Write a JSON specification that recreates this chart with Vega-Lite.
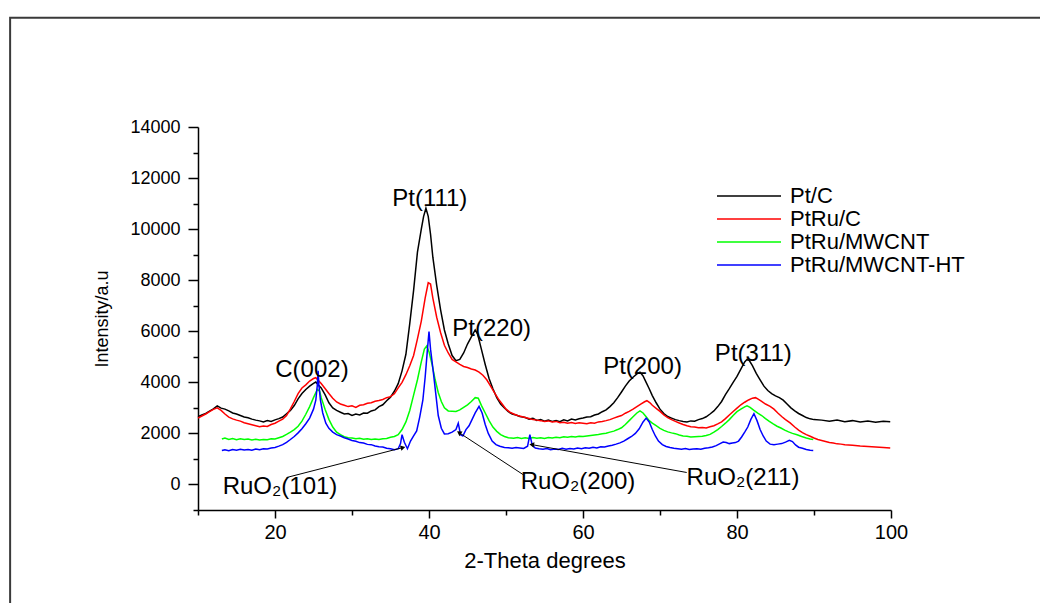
{
"$schema":"https://vega.github.io/schema/vega-lite/v6.json",
"width":693,"height":383,
"autosize":{"type":"none"},
"padding":{"left":198,"top":127,"right":149,"bottom":93},
"background":"white",
"config":{"view":{"stroke":null},"font":"Liberation Sans","text":{"font":"Liberation Sans"}},
"datasets":{
"ptc":[{"x":10,"y":2650},{"x":10.5,"y":2720},{"x":11,"y":2780},{"x":11.5,"y":2870},{"x":12,"y":2960},{"x":12.5,"y":3080},{"x":13,"y":2990},{"x":13.5,"y":2950},{"x":14,"y":2880},{"x":14.5,"y":2800},{"x":15,"y":2760},{"x":15.5,"y":2700},{"x":16,"y":2640},{"x":16.5,"y":2610},{"x":17,"y":2560},{"x":17.5,"y":2520},{"x":18,"y":2490},{"x":18.5,"y":2450},{"x":19,"y":2500},{"x":19.5,"y":2470},{"x":20,"y":2530},{"x":20.5,"y":2580},{"x":21,"y":2640},{"x":21.5,"y":2770},{"x":22,"y":2900},{"x":22.5,"y":3090},{"x":23,"y":3350},{"x":23.5,"y":3560},{"x":24,"y":3720},{"x":24.5,"y":3850},{"x":25,"y":3960},{"x":25.3,"y":4010},{"x":25.6,"y":3900},{"x":26,"y":3780},{"x":26.5,"y":3520},{"x":27,"y":3200},{"x":27.5,"y":3000},{"x":28,"y":2900},{"x":28.5,"y":2830},{"x":29,"y":2760},{"x":29.5,"y":2780},{"x":30,"y":2700},{"x":30.5,"y":2760},{"x":31,"y":2720},{"x":31.5,"y":2800},{"x":32,"y":2790},{"x":32.5,"y":2880},{"x":33,"y":2920},{"x":33.5,"y":3050},{"x":34,"y":3120},{"x":34.5,"y":3280},{"x":35,"y":3420},{"x":35.5,"y":3650},{"x":36,"y":3950},{"x":36.5,"y":4450},{"x":37,"y":5100},{"x":37.5,"y":6300},{"x":38,"y":7600},{"x":38.5,"y":9100},{"x":39,"y":10000},{"x":39.3,"y":10500},{"x":39.6,"y":10820},{"x":39.9,"y":10500},{"x":40.2,"y":9800},{"x":40.5,"y":8900},{"x":41,"y":7800},{"x":41.5,"y":6850},{"x":42,"y":6050},{"x":42.5,"y":5500},{"x":43,"y":5050},{"x":43.5,"y":4850},{"x":44,"y":4900},{"x":44.5,"y":5150},{"x":45,"y":5500},{"x":45.5,"y":5780},{"x":46,"y":6050},{"x":46.3,"y":5900},{"x":46.8,"y":5300},{"x":47.3,"y":4700},{"x":47.8,"y":4150},{"x":48.3,"y":3750},{"x":48.8,"y":3400},{"x":49.3,"y":3150},{"x":49.8,"y":3000},{"x":50.3,"y":2850},{"x":50.8,"y":2760},{"x":51.3,"y":2720},{"x":51.8,"y":2660},{"x":52.5,"y":2620},{"x":53,"y":2560},{"x":53.5,"y":2590},{"x":54,"y":2510},{"x":54.5,"y":2540},{"x":55,"y":2480},{"x":55.5,"y":2520},{"x":56,"y":2470},{"x":56.5,"y":2500},{"x":57,"y":2460},{"x":57.5,"y":2530},{"x":58,"y":2490},{"x":58.5,"y":2560},{"x":59,"y":2530},{"x":59.5,"y":2570},{"x":60,"y":2600},{"x":60.5,"y":2640},{"x":61,"y":2650},{"x":61.5,"y":2720},{"x":62,"y":2760},{"x":62.5,"y":2850},{"x":63,"y":2920},{"x":63.5,"y":3050},{"x":64,"y":3200},{"x":64.5,"y":3400},{"x":65,"y":3620},{"x":65.5,"y":3850},{"x":66,"y":4050},{"x":66.5,"y":4200},{"x":67,"y":4330},{"x":67.4,"y":4400},{"x":67.8,"y":4250},{"x":68.2,"y":4000},{"x":68.6,"y":3750},{"x":69,"y":3480},{"x":69.5,"y":3200},{"x":70,"y":2950},{"x":70.5,"y":2780},{"x":71,"y":2660},{"x":71.5,"y":2600},{"x":72,"y":2540},{"x":72.5,"y":2500},{"x":73,"y":2470},{"x":73.5,"y":2450},{"x":74,"y":2490},{"x":74.5,"y":2480},{"x":75,"y":2540},{"x":75.5,"y":2580},{"x":76,"y":2650},{"x":76.5,"y":2760},{"x":77,"y":2880},{"x":77.5,"y":3050},{"x":78,"y":3250},{"x":78.5,"y":3520},{"x":79,"y":3750},{"x":79.5,"y":4000},{"x":80,"y":4230},{"x":80.5,"y":4520},{"x":81,"y":4800},{"x":81.3,"y":4900},{"x":81.6,"y":4850},{"x":82,"y":4650},{"x":82.5,"y":4350},{"x":83,"y":4100},{"x":83.5,"y":3850},{"x":84,"y":3680},{"x":84.5,"y":3560},{"x":85,"y":3470},{"x":85.5,"y":3400},{"x":86,"y":3300},{"x":86.5,"y":3150},{"x":87,"y":3000},{"x":87.5,"y":2880},{"x":88,"y":2780},{"x":88.5,"y":2700},{"x":89,"y":2620},{"x":89.5,"y":2570},{"x":90,"y":2540},{"x":91,"y":2520},{"x":92,"y":2480},{"x":93,"y":2520},{"x":94,"y":2460},{"x":95,"y":2500},{"x":96,"y":2450},{"x":97,"y":2490},{"x":98,"y":2440},{"x":99,"y":2480},{"x":99.9,"y":2460}],
"ptruc":[{"x":10,"y":2600},{"x":10.5,"y":2680},{"x":11,"y":2760},{"x":11.5,"y":2850},{"x":12,"y":2940},{"x":12.5,"y":3000},{"x":13,"y":2900},{"x":13.5,"y":2760},{"x":14,"y":2640},{"x":14.5,"y":2570},{"x":15,"y":2520},{"x":15.5,"y":2480},{"x":16,"y":2420},{"x":16.5,"y":2380},{"x":17,"y":2340},{"x":17.5,"y":2300},{"x":18,"y":2260},{"x":18.5,"y":2290},{"x":19,"y":2270},{"x":19.5,"y":2350},{"x":20,"y":2400},{"x":20.5,"y":2480},{"x":21,"y":2560},{"x":21.5,"y":2700},{"x":22,"y":2960},{"x":22.5,"y":3250},{"x":23,"y":3560},{"x":23.5,"y":3780},{"x":24,"y":3900},{"x":24.5,"y":4050},{"x":25,"y":4150},{"x":25.3,"y":4180},{"x":25.6,"y":4080},{"x":26,"y":3950},{"x":26.5,"y":3760},{"x":27,"y":3560},{"x":27.5,"y":3380},{"x":28,"y":3230},{"x":28.5,"y":3150},{"x":29,"y":3100},{"x":29.5,"y":3050},{"x":30,"y":3080},{"x":30.5,"y":3020},{"x":31,"y":3100},{"x":31.5,"y":3120},{"x":32,"y":3180},{"x":32.5,"y":3200},{"x":33,"y":3260},{"x":33.5,"y":3290},{"x":34,"y":3330},{"x":34.5,"y":3400},{"x":35,"y":3440},{"x":35.5,"y":3550},{"x":36,"y":3780},{"x":36.5,"y":4000},{"x":37,"y":4300},{"x":37.5,"y":4650},{"x":38,"y":5050},{"x":38.5,"y":5700},{"x":39,"y":6400},{"x":39.5,"y":7300},{"x":39.9,"y":7900},{"x":40.2,"y":7850},{"x":40.5,"y":7300},{"x":41,"y":6550},{"x":41.5,"y":5950},{"x":42,"y":5450},{"x":42.5,"y":5150},{"x":43,"y":4900},{"x":43.5,"y":4800},{"x":44,"y":4700},{"x":44.5,"y":4620},{"x":45,"y":4580},{"x":45.5,"y":4520},{"x":46,"y":4480},{"x":46.5,"y":4400},{"x":47,"y":4280},{"x":47.5,"y":4100},{"x":48,"y":3850},{"x":48.5,"y":3600},{"x":49,"y":3350},{"x":49.5,"y":3150},{"x":50,"y":2950},{"x":50.5,"y":2830},{"x":51,"y":2760},{"x":51.5,"y":2700},{"x":52,"y":2660},{"x":52.5,"y":2620},{"x":53,"y":2580},{"x":53.5,"y":2540},{"x":54,"y":2520},{"x":54.5,"y":2500},{"x":55,"y":2470},{"x":55.5,"y":2490},{"x":56,"y":2450},{"x":56.5,"y":2470},{"x":57,"y":2420},{"x":57.5,"y":2440},{"x":58,"y":2400},{"x":58.5,"y":2430},{"x":59,"y":2390},{"x":59.5,"y":2420},{"x":60,"y":2400},{"x":60.5,"y":2380},{"x":61,"y":2420},{"x":61.5,"y":2400},{"x":62,"y":2450},{"x":62.5,"y":2470},{"x":63,"y":2500},{"x":63.5,"y":2540},{"x":64,"y":2600},{"x":64.5,"y":2650},{"x":65,"y":2700},{"x":65.5,"y":2790},{"x":66,"y":2860},{"x":66.5,"y":2950},{"x":67,"y":3050},{"x":67.5,"y":3150},{"x":68,"y":3240},{"x":68.3,"y":3280},{"x":68.7,"y":3200},{"x":69,"y":3100},{"x":69.5,"y":2980},{"x":70,"y":2860},{"x":70.5,"y":2720},{"x":71,"y":2620},{"x":71.5,"y":2540},{"x":72,"y":2470},{"x":72.5,"y":2410},{"x":73,"y":2350},{"x":73.5,"y":2300},{"x":74,"y":2260},{"x":74.5,"y":2250},{"x":75,"y":2220},{"x":75.5,"y":2230},{"x":76,"y":2210},{"x":76.5,"y":2260},{"x":77,"y":2300},{"x":77.5,"y":2370},{"x":78,"y":2450},{"x":78.5,"y":2580},{"x":79,"y":2720},{"x":79.5,"y":2860},{"x":80,"y":2990},{"x":80.5,"y":3120},{"x":81,"y":3220},{"x":81.5,"y":3310},{"x":82,"y":3380},{"x":82.4,"y":3400},{"x":82.8,"y":3330},{"x":83.2,"y":3250},{"x":83.7,"y":3150},{"x":84.3,"y":3060},{"x":84.8,"y":2950},{"x":85.3,"y":2800},{"x":85.8,"y":2660},{"x":86.3,"y":2540},{"x":86.9,"y":2410},{"x":87.5,"y":2250},{"x":88,"y":2130},{"x":88.5,"y":2030},{"x":89,"y":1950},{"x":89.5,"y":1890},{"x":90,"y":1820},{"x":90.5,"y":1760},{"x":91,"y":1720},{"x":91.5,"y":1680},{"x":92,"y":1640},{"x":92.5,"y":1620},{"x":93,"y":1590},{"x":93.5,"y":1580},{"x":94,"y":1560},{"x":95,"y":1540},{"x":96,"y":1510},{"x":97,"y":1490},{"x":98,"y":1470},{"x":99,"y":1450},{"x":99.9,"y":1430}],
"ptrumw":[{"x":13.1,"y":1780},{"x":13.5,"y":1820},{"x":14,"y":1760},{"x":14.5,"y":1800},{"x":15,"y":1750},{"x":15.5,"y":1790},{"x":16,"y":1760},{"x":16.5,"y":1780},{"x":17,"y":1740},{"x":17.5,"y":1770},{"x":18,"y":1740},{"x":18.5,"y":1760},{"x":19,"y":1750},{"x":19.5,"y":1790},{"x":20,"y":1780},{"x":20.5,"y":1830},{"x":21,"y":1880},{"x":21.5,"y":1960},{"x":22,"y":2050},{"x":22.5,"y":2150},{"x":23,"y":2280},{"x":23.5,"y":2480},{"x":24,"y":2750},{"x":24.5,"y":3050},{"x":25,"y":3400},{"x":25.5,"y":3720},{"x":25.8,"y":3650},{"x":26,"y":3400},{"x":26.5,"y":2950},{"x":27,"y":2550},{"x":27.5,"y":2250},{"x":28,"y":2050},{"x":28.5,"y":1950},{"x":29,"y":1870},{"x":29.5,"y":1830},{"x":30,"y":1820},{"x":30.5,"y":1790},{"x":31,"y":1810},{"x":31.5,"y":1770},{"x":32,"y":1790},{"x":32.5,"y":1760},{"x":33,"y":1780},{"x":33.5,"y":1760},{"x":34,"y":1790},{"x":34.5,"y":1800},{"x":35,"y":1850},{"x":35.5,"y":1880},{"x":36,"y":1950},{"x":36.5,"y":2150},{"x":37,"y":2450},{"x":37.5,"y":2900},{"x":38,"y":3500},{"x":38.5,"y":4100},{"x":39,"y":4800},{"x":39.4,"y":5300},{"x":39.7,"y":5420},{"x":40,"y":5200},{"x":40.4,"y":4700},{"x":40.8,"y":4100},{"x":41.2,"y":3600},{"x":41.6,"y":3250},{"x":42,"y":3000},{"x":42.5,"y":2880},{"x":43,"y":2870},{"x":43.5,"y":2860},{"x":44,"y":2920},{"x":44.5,"y":3020},{"x":45,"y":3120},{"x":45.5,"y":3250},{"x":46,"y":3400},{"x":46.4,"y":3380},{"x":46.8,"y":3100},{"x":47.3,"y":2800},{"x":47.8,"y":2500},{"x":48.3,"y":2250},{"x":48.8,"y":2080},{"x":49.3,"y":1950},{"x":49.8,"y":1880},{"x":50.3,"y":1830},{"x":51,"y":1810},{"x":51.5,"y":1840},{"x":52,"y":1800},{"x":52.5,"y":1830},{"x":53,"y":1800},{"x":53.5,"y":1840},{"x":54,"y":1810},{"x":54.5,"y":1830},{"x":55,"y":1800},{"x":55.5,"y":1840},{"x":56,"y":1820},{"x":56.5,"y":1850},{"x":57,"y":1830},{"x":57.5,"y":1870},{"x":58,"y":1850},{"x":58.5,"y":1880},{"x":59,"y":1860},{"x":59.5,"y":1890},{"x":60,"y":1880},{"x":60.5,"y":1900},{"x":61,"y":1920},{"x":61.5,"y":1940},{"x":62,"y":1960},{"x":62.5,"y":1990},{"x":63,"y":2010},{"x":63.5,"y":2050},{"x":64,"y":2090},{"x":64.5,"y":2150},{"x":65,"y":2220},{"x":65.5,"y":2350},{"x":66,"y":2500},{"x":66.5,"y":2650},{"x":67,"y":2800},{"x":67.4,"y":2880},{"x":67.8,"y":2800},{"x":68.2,"y":2650},{"x":68.6,"y":2500},{"x":69,"y":2400},{"x":69.5,"y":2300},{"x":70,"y":2200},{"x":70.5,"y":2120},{"x":71,"y":2060},{"x":71.5,"y":2020},{"x":72,"y":1990},{"x":72.5,"y":1940},{"x":73,"y":1900},{"x":73.5,"y":1890},{"x":74,"y":1860},{"x":74.5,"y":1870},{"x":75,"y":1880},{"x":75.5,"y":1890},{"x":76,"y":1920},{"x":76.5,"y":1960},{"x":77,"y":2050},{"x":77.5,"y":2150},{"x":78,"y":2270},{"x":78.5,"y":2400},{"x":79,"y":2540},{"x":79.5,"y":2700},{"x":80,"y":2850},{"x":80.5,"y":2950},{"x":81,"y":3040},{"x":81.3,"y":3080},{"x":81.7,"y":3020},{"x":82.2,"y":2900},{"x":82.7,"y":2790},{"x":83.2,"y":2700},{"x":83.7,"y":2580},{"x":84.2,"y":2470},{"x":84.7,"y":2370},{"x":85.2,"y":2280},{"x":85.7,"y":2210},{"x":86.2,"y":2130},{"x":86.7,"y":2060},{"x":87.2,"y":2000},{"x":87.8,"y":1950},{"x":88.4,"y":1880},{"x":89,"y":1820},{"x":89.5,"y":1780},{"x":89.9,"y":1760}],
"ptrumwht":[{"x":13.1,"y":1330},{"x":13.5,"y":1360},{"x":14,"y":1320},{"x":14.5,"y":1370},{"x":15,"y":1340},{"x":15.5,"y":1380},{"x":16,"y":1350},{"x":16.5,"y":1370},{"x":17,"y":1340},{"x":17.5,"y":1390},{"x":18,"y":1360},{"x":18.5,"y":1400},{"x":19,"y":1390},{"x":19.5,"y":1430},{"x":20,"y":1450},{"x":20.5,"y":1500},{"x":21,"y":1560},{"x":21.5,"y":1650},{"x":22,"y":1760},{"x":22.5,"y":1880},{"x":23,"y":2020},{"x":23.5,"y":2180},{"x":24,"y":2380},{"x":24.5,"y":2600},{"x":25,"y":2950},{"x":25.3,"y":3300},{"x":25.5,"y":3900},{"x":25.6,"y":4450},{"x":25.7,"y":3900},{"x":25.9,"y":3300},{"x":26.2,"y":2800},{"x":26.6,"y":2400},{"x":27,"y":2200},{"x":27.5,"y":2050},{"x":28,"y":1950},{"x":28.5,"y":1900},{"x":29,"y":1830},{"x":29.5,"y":1780},{"x":30,"y":1720},{"x":30.5,"y":1690},{"x":31,"y":1640},{"x":31.5,"y":1620},{"x":32,"y":1570},{"x":32.5,"y":1560},{"x":33,"y":1510},{"x":33.5,"y":1480},{"x":34,"y":1470},{"x":34.5,"y":1420},{"x":35,"y":1400},{"x":35.5,"y":1360},{"x":36,"y":1400},{"x":36.3,"y":1600},{"x":36.5,"y":1950},{"x":36.8,"y":1650},{"x":37.2,"y":1400},{"x":37.6,"y":1700},{"x":38,"y":1900},{"x":38.4,"y":2100},{"x":38.8,"y":2650},{"x":39.2,"y":3300},{"x":39.5,"y":4200},{"x":39.8,"y":5300},{"x":40,"y":5990},{"x":40.2,"y":5300},{"x":40.6,"y":4300},{"x":40.9,"y":3500},{"x":41.2,"y":2700},{"x":41.6,"y":2200},{"x":42,"y":1980},{"x":42.5,"y":1990},{"x":43,"y":2050},{"x":43.5,"y":2150},{"x":43.8,"y":2400},{"x":44.1,"y":1950},{"x":44.4,"y":1900},{"x":44.8,"y":2150},{"x":45.2,"y":2300},{"x":45.6,"y":2550},{"x":46,"y":2800},{"x":46.5,"y":3060},{"x":46.9,"y":2800},{"x":47.3,"y":2350},{"x":47.7,"y":2000},{"x":48.2,"y":1700},{"x":48.7,"y":1560},{"x":49.2,"y":1500},{"x":49.8,"y":1450},{"x":50.3,"y":1440},{"x":50.8,"y":1420},{"x":51.3,"y":1450},{"x":51.8,"y":1430},{"x":52.3,"y":1410},{"x":52.8,"y":1500},{"x":53.1,"y":1950},{"x":53.4,"y":1550},{"x":53.8,"y":1430},{"x":54.3,"y":1400},{"x":54.8,"y":1380},{"x":55.3,"y":1410},{"x":55.8,"y":1360},{"x":56.3,"y":1390},{"x":56.8,"y":1370},{"x":57.3,"y":1420},{"x":57.8,"y":1380},{"x":58.3,"y":1410},{"x":58.8,"y":1390},{"x":59.3,"y":1430},{"x":59.8,"y":1400},{"x":60.3,"y":1440},{"x":60.8,"y":1420},{"x":61.3,"y":1460},{"x":61.8,"y":1430},{"x":62.3,"y":1480},{"x":62.8,"y":1470},{"x":63.3,"y":1510},{"x":63.8,"y":1540},{"x":64.3,"y":1580},{"x":64.8,"y":1630},{"x":65.3,"y":1700},{"x":65.8,"y":1790},{"x":66.3,"y":1880},{"x":66.8,"y":2000},{"x":67.3,"y":2180},{"x":67.8,"y":2450},{"x":68.2,"y":2600},{"x":68.6,"y":2450},{"x":69,"y":2150},{"x":69.4,"y":1900},{"x":69.8,"y":1700},{"x":70.3,"y":1560},{"x":70.8,"y":1490},{"x":71.3,"y":1450},{"x":71.8,"y":1420},{"x":72.3,"y":1400},{"x":72.8,"y":1380},{"x":73.3,"y":1410},{"x":73.8,"y":1370},{"x":74.3,"y":1390},{"x":74.8,"y":1400},{"x":75.3,"y":1380},{"x":75.8,"y":1420},{"x":76.3,"y":1440},{"x":76.8,"y":1470},{"x":77.3,"y":1520},{"x":77.8,"y":1600},{"x":78.2,"y":1660},{"x":78.6,"y":1640},{"x":79,"y":1600},{"x":79.4,"y":1620},{"x":79.8,"y":1640},{"x":80.2,"y":1700},{"x":80.6,"y":1860},{"x":81,"y":2050},{"x":81.4,"y":2250},{"x":81.8,"y":2550},{"x":82.2,"y":2770},{"x":82.6,"y":2500},{"x":83,"y":2150},{"x":83.4,"y":1900},{"x":83.8,"y":1700},{"x":84.3,"y":1580},{"x":84.8,"y":1560},{"x":85.3,"y":1580},{"x":85.8,"y":1600},{"x":86.3,"y":1660},{"x":86.8,"y":1730},{"x":87.2,"y":1680},{"x":87.6,"y":1550},{"x":88,"y":1460},{"x":88.5,"y":1420},{"x":89,"y":1370},{"x":89.5,"y":1340},{"x":89.9,"y":1330}],
"labels":[{"label":"Pt(111)","x":40.1,"y":11170},{"label":"C(002)","x":24.8,"y":4492},{"label":"Pt(220)","x":48.14,"y":6093},{"label":"Pt(200)","x":67.73,"y":4590},{"label":"Pt(311)","x":82.12,"y":5117},{"label":"RuO₂(101)","x":20.65,"y":-117},{"label":"RuO₂(200)","x":59.35,"y":98},{"label":"RuO₂(211)","x":80.78,"y":234}],
"arrows":[{"x":21.52,"y":273,"x2":36.62,"y2":1445},{"x":52.2,"y":390,"x2":43.9,"y2":2031},{"x":73.47,"y":469,"x2":53.34,"y2":1562}]
},
"resolve":{"axis":{"x":"independent","y":"independent"}},
"layer":[
{"data":{"values":[{}]},
 "mark":{"type":"rect","fill":"transparent","stroke":"#3a3a3a","strokeWidth":2,"clip":false},
 "encoding":{
  "x":{"datum":-14.4,"type":"quantitative","scale":{"domain":[10,100],"nice":false,"zero":false},"axis":null},
  "x2":{"datum":121},
  "y":{"datum":18280,"type":"quantitative","scale":{"domain":[-1000,14000],"nice":false,"zero":false},"axis":null},
  "y2":{"datum":-4900}}},
{"encoding":{
  "x":{"field":"x","type":"quantitative","scale":{"domain":[10,100],"nice":false,"zero":false},
   "axis":{"orient":"bottom","values":[10,20,30,40,50,60,70,80,90,100],"labelExpr":"datum.value % 20 === 0 ? datum.label : ''","labelFlush":false,"labelOverlap":false,"title":"2-Theta degrees","grid":false,"domainColor":"black","domainWidth":1.5,"tickColor":"black","tickWidth":1.5,"tickSize":{"condition":{"test":"datum.value % 20 === 0","value":8},"value":5},"labelFontSize":20,"labelFont":"Liberation Sans","labelColor":"black","labelPadding":4,"titleFontSize":22,"titleFont":"Liberation Sans","titleFontWeight":"normal","titleColor":"black","titlePadding":8}},
  "y":{"field":"y","type":"quantitative","scale":{"domain":[-1000,14000],"nice":false,"zero":false},
   "axis":{"orient":"left","values":[-1000,0,1000,2000,3000,4000,5000,6000,7000,8000,9000,10000,11000,12000,13000,14000],"format":"d","labelExpr":"datum.value % 2000 === 0 ? datum.label : ''","labelOverlap":false,"labelFlush":false,"title":"Intensity/a.u","grid":false,"domainColor":"black","domainWidth":1.5,"tickColor":"black","tickWidth":1.5,"tickSize":{"condition":{"test":"datum.value % 2000 === 0","value":10},"value":5},"labelFontSize":18,"labelFont":"Liberation Sans","labelColor":"black","labelPadding":8,"titleFontSize":18,"titleFont":"Liberation Sans","titleFontWeight":"normal","titleColor":"black","titlePadding":18}}
 },
 "layer":[
 {"data":{"name":"ptc"},
  "mark":{"type":"line","strokeWidth":1.5},
  "encoding":{
   "color":{"datum":"Pt/C","type":"nominal","scale":{"domain":["Pt/C","PtRu/C","PtRu/MWCNT","PtRu/MWCNT-HT"],"range":["#000000","#ff0000","#00ff00","#0000ff"]},
    "legend":{"title":null,"orient":"none","legendX":540,"legendY":58,"symbolType":"M-16,0H16","symbolSize":16,"symbolStrokeWidth":1.5,"labelFontSize":22,"labelFont":"Liberation Sans","labelColor":"black","labelOffset":30,"labelLimit":400,"rowPadding":1,"padding":0}}}},
 {"data":{"name":"ptruc"},
  "mark":{"type":"line","strokeWidth":1.5},
  "encoding":{
   "color":{"datum":"PtRu/C","type":"nominal","scale":{"domain":["Pt/C","PtRu/C","PtRu/MWCNT","PtRu/MWCNT-HT"],"range":["#000000","#ff0000","#00ff00","#0000ff"]},
    "legend":{"title":null,"orient":"none","legendX":540,"legendY":58,"symbolType":"M-16,0H16","symbolSize":16,"symbolStrokeWidth":1.5,"labelFontSize":22,"labelFont":"Liberation Sans","labelColor":"black","labelOffset":30,"labelLimit":400,"rowPadding":1,"padding":0}}}},
 {"data":{"name":"ptrumw"},
  "mark":{"type":"line","strokeWidth":1.5},
  "encoding":{
   "color":{"datum":"PtRu/MWCNT","type":"nominal","scale":{"domain":["Pt/C","PtRu/C","PtRu/MWCNT","PtRu/MWCNT-HT"],"range":["#000000","#ff0000","#00ff00","#0000ff"]},
    "legend":{"title":null,"orient":"none","legendX":540,"legendY":58,"symbolType":"M-16,0H16","symbolSize":16,"symbolStrokeWidth":1.5,"labelFontSize":22,"labelFont":"Liberation Sans","labelColor":"black","labelOffset":30,"labelLimit":400,"rowPadding":1,"padding":0}}}},
 {"data":{"name":"ptrumwht"},
  "mark":{"type":"line","strokeWidth":1.5},
  "encoding":{
   "color":{"datum":"PtRu/MWCNT-HT","type":"nominal","scale":{"domain":["Pt/C","PtRu/C","PtRu/MWCNT","PtRu/MWCNT-HT"],"range":["#000000","#ff0000","#00ff00","#0000ff"]},
    "legend":{"title":null,"orient":"none","legendX":540,"legendY":58,"symbolType":"M-16,0H16","symbolSize":16,"symbolStrokeWidth":1.5,"labelFontSize":22,"labelFont":"Liberation Sans","labelColor":"black","labelOffset":30,"labelLimit":400,"rowPadding":1,"padding":0}}}},
 {"data":{"name":"arrows"},
  "mark":{"type":"rule","color":"black","strokeWidth":1},
  "encoding":{"x2":{"field":"x2"},"y2":{"field":"y2"}}},
 {"data":{"values":[{"x":36.62,"y":1445}]},
  "mark":{"type":"point","shape":"triangle-up","angle":75,"filled":true,"size":30,"color":"black","opacity":1}},
 {"data":{"values":[{"x":43.9,"y":2031}]},
  "mark":{"type":"point","shape":"triangle-up","angle":303,"filled":true,"size":30,"color":"black","opacity":1}},
 {"data":{"values":[{"x":53.34,"y":1562}]},
  "mark":{"type":"point","shape":"triangle-up","angle":280,"filled":true,"size":30,"color":"black","opacity":1}},
 {"data":{"name":"labels"},
  "mark":{"type":"text","fontSize":24,"font":"Liberation Sans","color":"black","align":"center","baseline":"middle"},
  "encoding":{"text":{"field":"label"}}}
 ]}
]
}
